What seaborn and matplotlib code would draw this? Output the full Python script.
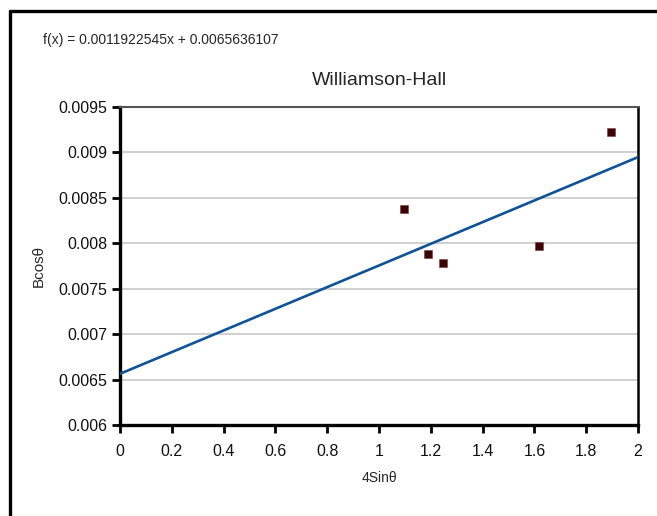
import numpy as np
import pandas as pd
import matplotlib
matplotlib.use("Agg")
import matplotlib.pyplot as plt
from matplotlib.lines import Line2D
import seaborn as sns

# ---- data ----
x_vals = [1.096, 1.189, 1.247, 1.618, 1.896]
y_vals = [0.008377, 0.007882, 0.007783, 0.007970, 0.009225]
slope = 0.0011922545
intercept = 0.0065636107
x_ticks = [0, 0.2, 0.4, 0.6, 0.8, 1, 1.2, 1.4, 1.6, 1.8, 2]
x_tick_labels = ["0", "0.2", "0.4", "0.6", "0.8", "1", "1.2", "1.4", "1.6", "1.8", "2"]
y_ticks = [0.006, 0.0065, 0.007, 0.0075, 0.008, 0.0085, 0.009, 0.0095]
y_tick_labels = ["0.006", "0.0065", "0.007", "0.0075", "0.008", "0.0085", "0.009", "0.0095"]
title = "Williamson-Hall"
equation = "f(x) = 0.0011922545x + 0.0065636107"
x_label = "4Sinθ"
y_label = "Bcosθ"

sns.set_theme(style="white")
plt.rcParams["font.family"] = ["Liberation Sans Narrow", "Liberation Sans", "DejaVu Sans"]

df = pd.DataFrame({"x": x_vals, "y": y_vals})
x_fit = np.array([x_ticks[0], x_ticks[-1]])
fit = pd.DataFrame({"x": x_fit, "y": slope * x_fit + intercept})

fig = plt.figure(figsize=(6.57, 5.16), dpi=100)
ax = fig.add_axes([120 / 657, 1 - 425 / 516, (638 - 120) / 657, (425 - 107) / 516])

ax.set_axisbelow(True)
ax.yaxis.grid(True, color="#c8c8c8", linewidth=1.2)
ax.xaxis.grid(False)

sns.lineplot(data=fit, x="x", y="y", ax=ax, color="#0f5396", linewidth=1.9, zorder=3)
sns.scatterplot(data=df, x="x", y="y", ax=ax, marker="s", s=40,
                color="#3a0306", edgecolor="#7a3a3a", linewidth=0.4, zorder=4)

ax.set_xlim(x_ticks[0], x_ticks[-1])
ax.set_ylim(y_ticks[0], y_ticks[-1])
ax.set_xticks(x_ticks)
ax.set_xticklabels(x_tick_labels, fontsize=11.5)
ax.set_yticks(y_ticks)
ax.set_yticklabels(y_tick_labels, fontsize=11.5)
ax.tick_params(axis="both", direction="out", length=6, width=2, color="black",
               bottom=True, left=True, pad=3, labelcolor="#111111")
ax.tick_params(axis="x", pad=8)

for side in ["left", "bottom"]:
    ax.spines[side].set_color("black")
    ax.spines[side].set_linewidth(2.4)
ax.spines["right"].set_color("black")
ax.spines["right"].set_linewidth(1.8)
ax.spines["top"].set_color("#555555")
ax.spines["top"].set_linewidth(1.5)

ax.set_xlabel(x_label, fontsize=10, labelpad=8)
ax.set_ylabel(y_label, fontsize=11, labelpad=9)
ax.set_title(title, fontsize=14, pad=16)

fig.text(43 / 657, 1 - 40 / 516, equation, fontsize=10, va="center", ha="left")

# outer frame (top and left edges)
fig.add_artist(Line2D([10 / 657, 1.0], [1 - 11 / 516, 1 - 11 / 516], color="black", linewidth=2.4,
                      transform=fig.transFigure))
fig.add_artist(Line2D([10 / 657, 10 / 657], [0.0, 1 - 11 / 516], color="black", linewidth=2.4,
                      transform=fig.transFigure))

fig.savefig("out.png", dpi=100)
